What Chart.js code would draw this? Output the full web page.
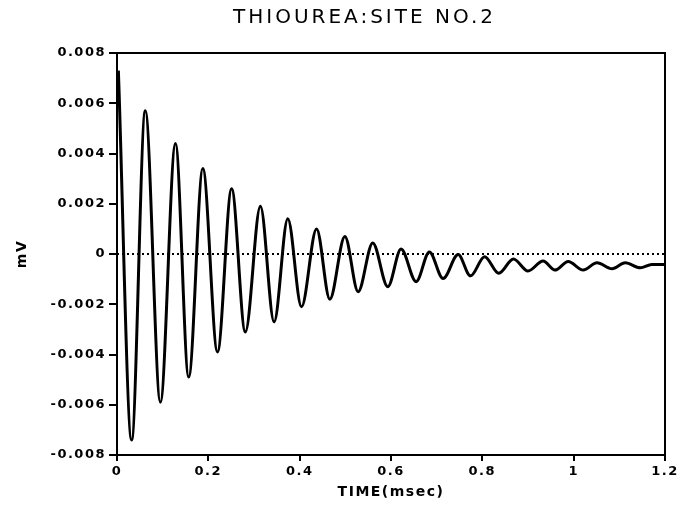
<!DOCTYPE html>
<html>
<head>
<meta charset="utf-8">
<script src="https://cdn.jsdelivr.net/npm/chart.js@4/dist/chart.umd.min.js"></script>
<style>
  html, body { margin: 0; padding: 0; background: #fff; }
  canvas { display: block; }
</style>
</head>
<body>
<canvas id="chart" width="681" height="514"></canvas>
<script>
// Damped ringing trace: successive peaks and troughs (time in msec, amplitude in mV)
const timeMs = [0.003, 0.032, 0.062, 0.095, 0.128, 0.157, 0.188, 0.220, 0.251, 0.281,
                0.314, 0.344, 0.374, 0.404, 0.437, 0.466, 0.499, 0.528, 0.560, 0.593,
                0.622, 0.655, 0.684, 0.714, 0.747, 0.774, 0.805, 0.836, 0.868, 0.900,
                0.933, 0.959, 0.988, 1.021, 1.051, 1.084, 1.113, 1.146, 1.171, 1.200];
const signalMv = [0.0073, -0.0074, 0.0057, -0.0059, 0.0044, -0.0049, 0.0034, -0.0039, 0.0026, -0.0031,
                  0.0019, -0.0027, 0.0014, -0.0021, 0.0010, -0.0018, 0.0007, -0.0015, 0.00044, -0.0013,
                  0.0002, -0.0011, 0.00008, -0.00098, -0.00002, -0.00087, -0.00011, -0.00077, -0.0002, -0.00068,
                  -0.00028, -0.00064, -0.0003, -0.00064, -0.00035, -0.00059, -0.00035, -0.00055, -0.00042, -0.00042];

// Dotted zero reference line
const baselineTime = [0, 1.2];
const baselineMv = [0, 0];

// Axis ticks
const xTickValues = [0, 0.2, 0.4, 0.6, 0.8, 1, 1.2];
const xTickLabels = ['0', '0.2', '0.4', '0.6', '0.8', '1', '1.2'];
const yTickValues = [-0.008, -0.006, -0.004, -0.002, 0, 0.002, 0.004, 0.006, 0.008];
const yTickLabels = ['-0.008', '-0.006', '-0.004', '-0.002', '0', '0.002', '0.004', '0.006', '0.008'];

const chartTitle = 'THIOUREA:SITE NO.2';
const xAxisTitle = 'TIME(msec)';
const yAxisTitle = 'mV';

function labelFor(values, labels, v) {
  let best = 0;
  values.forEach((t, i) => { if (Math.abs(t - v) < Math.abs(values[best] - v)) best = i; });
  return labels[best];
}

const tickFont = { family: 'DejaVu Sans', size: 13, weight: 'bold' };

// Wide lettering for the heading, tighter for the axes, and a closed frame round the plot
const framePlugin = {
  id: 'frame',
  beforeDraw(chart) {
    chart.ctx.letterSpacing = '3px';
  },
  afterDatasetsDraw(chart) {
    const { ctx, chartArea: a } = chart;
    ctx.save();
    ctx.strokeStyle = '#000';
    ctx.lineWidth = 2;
    ctx.strokeRect(a.left, a.top, a.right - a.left, a.bottom - a.top);
    ctx.restore();
    ctx.letterSpacing = '1.5px';
  }
};

new Chart(document.getElementById('chart'), {
  type: 'line',
  data: {
    datasets: [
      {
        data: timeMs.map((t, i) => ({ x: t, y: signalMv[i] })),
        borderColor: '#000',
        borderWidth: 3,
        pointRadius: 0,
        cubicInterpolationMode: 'monotone',
        fill: false
      },
      {
        data: baselineTime.map((t, i) => ({ x: t, y: baselineMv[i] })),
        borderColor: '#000',
        borderWidth: 2,
        borderDash: [2, 3],
        pointRadius: 0,
        fill: false
      }
    ]
  },
  options: {
    responsive: false,
    animation: false,
    devicePixelRatio: 1,
    layout: { padding: { left: 48, right: 0, top: 0, bottom: 0 } },
    plugins: {
      legend: { display: false },
      tooltip: { enabled: false },
      title: {
        display: true,
        text: chartTitle,
        color: '#000',
        font: { family: 'DejaVu Sans', size: 20, weight: 'normal' },
        padding: { top: 6, bottom: 23 }
      }
    },
    scales: {
      x: {
        type: 'linear',
        min: 0,
        max: 1.2,
        afterBuildTicks: s => { s.ticks = xTickValues.map(v => ({ value: v })); },
        afterFit: s => { s.height = 59; },
        border: { display: false },
        grid: { z: 1, drawOnChartArea: false, drawTicks: true, tickLength: 6, color: '#000', lineWidth: 2 },
        ticks: {
          z: 1,
          color: '#000',
          font: tickFont,
          padding: 3,
          maxRotation: 0,
          autoSkip: false,
          callback: v => labelFor(xTickValues, xTickLabels, v)
        },
        title: {
          display: true,
          text: xAxisTitle,
          color: '#000',
          font: { family: 'DejaVu Sans', size: 14, weight: 'bold' },
          padding: { top: 0, bottom: 13 }
        }
      },
      y: {
        type: 'linear',
        min: -0.008,
        max: 0.008,
        afterBuildTicks: s => { s.ticks = yTickValues.map(v => ({ value: v })); },
        afterFit: s => { s.width = 69; },
        border: { display: false },
        grid: { z: 1, drawOnChartArea: false, drawTicks: true, tickLength: 8, color: '#000', lineWidth: 2 },
        ticks: {
          z: 1,
          color: '#000',
          font: tickFont,
          padding: 3,
          autoSkip: false,
          callback: v => labelFor(yTickValues, yTickLabels, v)
        },
        title: {
          display: true,
          text: yAxisTitle,
          color: '#000',
          font: { family: 'DejaVu Sans', size: 14, weight: 'bold' },
          padding: { top: -34, bottom: 0 }
        }
      },
      // Empty right-hand margin strip
      yRight: {
        type: 'linear',
        position: 'right',
        afterFit: s => { s.width = 16; },
        border: { display: false },
        grid: { display: false },
        ticks: { display: false }
      }
    }
  },
  plugins: [framePlugin]
});
</script>
</body>
</html>
